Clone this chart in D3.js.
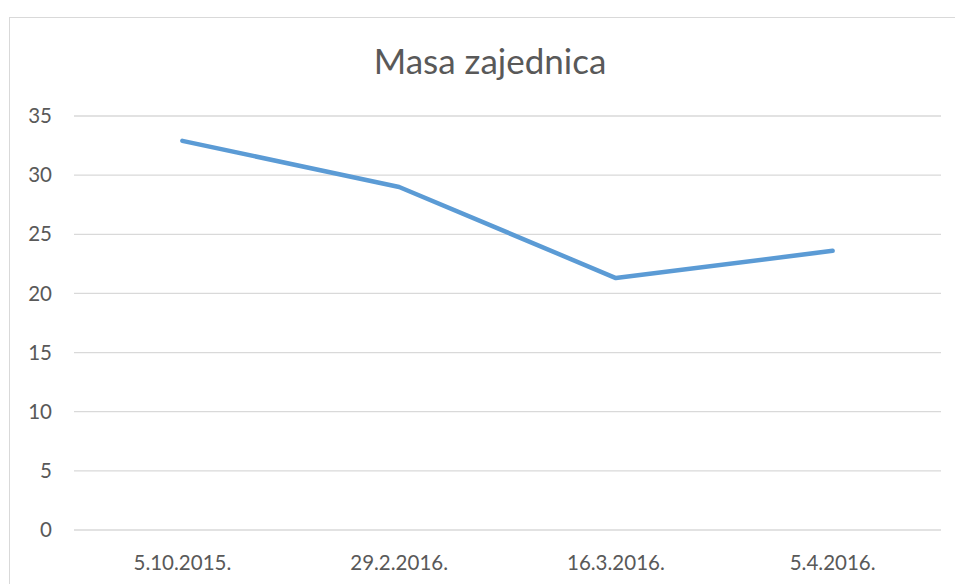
<!DOCTYPE html>
<html>
<head>
<meta charset="utf-8">
<script src="https://cdn.jsdelivr.net/npm/d3@7"></script>
<style>
  body { margin: 0; background: #fff; }
  text { font-family: Lato, "Open Sans", sans-serif; fill: #595959; }
</style>
</head>
<body>
<div id="chart"></div>
<script>
// Data
const dates = ["5.10.2015.", "29.2.2016.", "16.3.2016.", "5.4.2016."];
const masa = [32.9, 29.0, 21.3, 23.6];
const yTicks = [0, 5, 10, 15, 20, 25, 30, 35];

const W = 955, H = 584;
const margin = { top: 116, right: 14, bottom: 54, left: 74 };
const width = 941 - margin.left,
    height = 530 - margin.top;

const svg = d3.select("#chart")
    .append("svg")
    .attr("width", W)
    .attr("height", H);

// chart border
svg.append("rect")
    .attr("x", 9.5)
    .attr("y", 17.5)
    .attr("width", 962)
    .attr("height", 600)
    .attr("fill", "none")
    .attr("stroke", "#d9d9d9");

const g = svg.append("g")
    .attr("transform", `translate(${margin.left},${margin.top})`);

const x = d3.scaleBand()
    .domain(dates)
    .range([0, width]);

const y = d3.scaleLinear()
    .domain([0, 35])
    .range([height, 0]);

// gridlines
g.selectAll(".grid")
    .data(yTicks)
    .enter()
    .append("line")
    .attr("x1", 0)
    .attr("x2", width)
    .attr("y1", (d) => y(d))
    .attr("y2", (d) => y(d))
    .attr("stroke", "#d9d9d9")
    .attr("stroke-width", 1.3);

// y tick labels
g.selectAll(".ylab")
    .data(yTicks)
    .enter()
    .append("text")
    .attr("x", -22)
    .attr("y", (d) => y(d))
    .attr("dy", "0.35em")
    .attr("text-anchor", "end")
    .style("font-size", "20.5px")
    .text((d) => d);

// x tick labels
g.selectAll(".xlab")
    .data(dates)
    .enter()
    .append("text")
    .attr("x", (d) => x(d) + x.bandwidth() / 2)
    .attr("y", height + 40)
    .attr("text-anchor", "middle")
    .style("font-size", "20.5px")
    .text((d) => d);

// line
const line = d3.line()
    .x((d, i) => x(dates[i]) + x.bandwidth() / 2)
    .y((d) => y(d));

g.append("path")
    .datum(masa)
    .attr("fill", "none")
    .attr("stroke", "#5b9bd5")
    .attr("stroke-width", 4.5)
    .attr("stroke-linecap", "round")
    .attr("stroke-linejoin", "round")
    .attr("d", line);

// title
svg.append("text")
    .attr("x", 490)
    .attr("y", 74)
    .attr("text-anchor", "middle")
    .style("font-size", "35px")
    .text("Masa zajednica");
</script>
</body>
</html>
